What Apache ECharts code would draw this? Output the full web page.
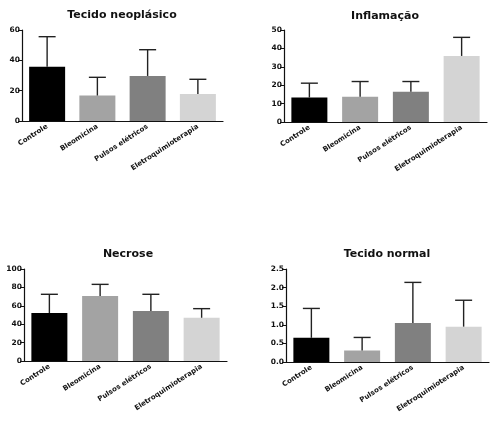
<!DOCTYPE html>
<html>
<head>
<meta charset="utf-8">
<script src="https://cdn.jsdelivr.net/npm/echarts@6/dist/echarts.min.js"></script>
<style>
html,body{margin:0;padding:0;background:#fff;}
#chart{width:491px;height:423px;}
</style>
</head>
<body>
<div id="chart"></div>
<script>
// ---- data ----
var categories = ['Controle', 'Bleomicina', 'Pulsos elétricos', 'Eletroquimioterapia'];
var panelTitles = ['Tecido neoplásico', 'Inflamação', 'Necrose', 'Tecido normal'];

var neoMean = [35.8, 16.8, 29.7, 17.8];
var neoSD   = [19.8, 12.0, 17.3, 9.7];

var inflMean = [13.3, 13.7, 16.4, 35.9];
var inflSD   = [7.8, 8.3, 5.6, 10.1];

var necMean = [52.2, 70.7, 54.3, 47.0];
var necSD   = [20.3, 12.6, 18.2, 9.9];

var normMean = [0.65, 0.31, 1.05, 0.95];
var normSD   = [0.79, 0.35, 1.09, 0.71];

var yMax = [60, 50, 100, 2.5];
var yStep = [20, 10, 20, 0.5];

// ---- styling / layout ----
var barColors = ['#000000', '#a3a3a3', '#808080', '#d4d4d4'];
var FONT = 'DejaVu Sans';
var TXT = '#111111';
var grids = [
  {left: 22, top: 30, width: 201, height: 91},
  {left: 284, top: 30, width: 203, height: 92},
  {left: 24, top: 269, width: 203, height: 92},
  {left: 286, top: 269, width: 203, height: 93}
];
var titlePos = [[122, 10], [385, 11], [128, 249], [387, 249]];

var means = [neoMean, inflMean, necMean, normMean];
var sds = [neoSD, inflSD, necSD, normSD];

var option = {
  animation: false,
  backgroundColor: '#ffffff',
  title: [], grid: [], xAxis: [], yAxis: [], series: []
};

for (var p = 0; p < 4; p++) {
  option.title.push({
    text: panelTitles[p],
    left: titlePos[p][0],
    top: titlePos[p][1],
    padding: 0,
    textAlign: 'center',
    textStyle: {fontFamily: FONT, fontWeight: 'bold', fontSize: 11, color: TXT}
  });
  option.grid.push(grids[p]);
  option.xAxis.push({
    type: 'category',
    gridIndex: p,
    data: categories,
    boundaryGap: true,
    axisLine: {lineStyle: {color: '#111', width: 1.2}},
    axisTick: {alignWithLabel: true, length: 3, lineStyle: {color: '#111', width: 1}},
    axisLabel: {
      interval: 0, rotate: 33, margin: 5,
      fontFamily: FONT, fontWeight: 'bold', fontSize: 7, color: TXT
    },
    splitLine: {show: false}
  });
  (function (pp) {
    option.yAxis.push({
      type: 'value',
      gridIndex: pp,
      min: 0,
      max: yMax[pp],
      interval: yStep[pp],
      axisLine: {show: true, lineStyle: {color: '#111', width: 1.2}},
      axisTick: {show: true, length: 4, lineStyle: {color: '#111', width: 1}},
      axisLabel: {
        margin: 2,
        fontFamily: FONT, fontWeight: 'bold', fontSize: 7.5, color: TXT,
        formatter: function (v) { return pp === 3 ? v.toFixed(1) : String(v); }
      },
      splitLine: {show: false}
    });
  })(p);

  var barData = means[p].map(function (m, i) {
    return {value: m, itemStyle: {color: barColors[i]}};
  });
  option.series.push({
    type: 'bar',
    xAxisIndex: p, yAxisIndex: p,
    barWidth: 36,
    data: barData,
    z: 2
  });

  var errData = means[p].map(function (m, i) { return [i, m, m + sds[p][i]]; });
  option.series.push({
    type: 'custom',
    xAxisIndex: p, yAxisIndex: p,
    z: 3,
    data: errData,
    renderItem: function (params, api) {
      var x = api.value(0);
      var base = api.coord([x, api.value(1)]);
      var top = api.coord([x, api.value(2)]);
      var half = 8.5;
      var st = {stroke: '#222', lineWidth: 1.4};
      return {
        type: 'group',
        children: [
          {type: 'line', shape: {x1: base[0], y1: base[1], x2: top[0], y2: top[1]}, style: st},
          {type: 'line', shape: {x1: top[0] - half, y1: top[1], x2: top[0] + half, y2: top[1]}, style: st}
        ]
      };
    }
  });
}

var chart = echarts.init(document.getElementById('chart'), null, {renderer: 'canvas'});
chart.setOption(option);
</script>
</body>
</html>
